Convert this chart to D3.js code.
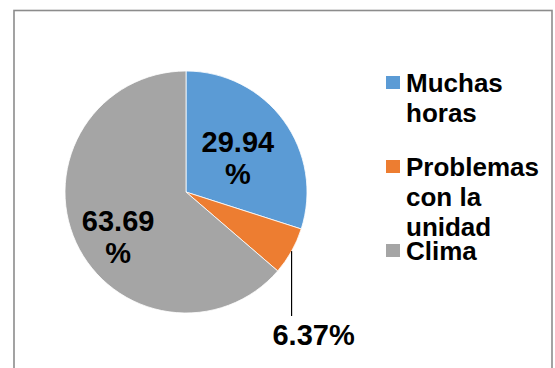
<!DOCTYPE html>
<html>
<head>
<meta charset="utf-8">
<script src="https://cdn.jsdelivr.net/npm/d3@7"></script>
<style>
  html, body { margin: 0; padding: 0; background: #fff; }
  svg { display: block; font-family: "Liberation Sans", Arial, sans-serif; font-weight: bold; }
</style>
</head>
<body>
<svg id="chart" width="555" height="368"></svg>
<script>
// Reasons and their shares (%)
const categories = ["Muchas horas", "Problemas con la unidad", "Clima"];
const shares = [29.94, 6.37, 63.69];
const valueLabels = ["29.94 %", "6.37%", "63.69 %"];
const legendLines = [["Muchas", "horas"], ["Problemas", "con la", "unidad"], ["Clima"]];
const colors = ["#5B9BD5", "#ED7D31", "#A5A5A5"];

const svg = d3.select("#chart");

// Chart frame
svg.append("rect")
  .attr("x", 14).attr("y", 10.5)
  .attr("width", 538).attr("height", 400)
  .attr("fill", "none")
  .attr("stroke", "#8c8c8c")
  .attr("stroke-width", 1.6);

const cx = 186, cy = 192, r = 121;
const g = svg.append("g").attr("transform", `translate(${cx},${cy})`);

const pie = d3.pie().sort(null).value(d => d)(shares);
const arc = d3.arc().innerRadius(0).outerRadius(r);

g.selectAll("path.slice")
  .data(pie)
  .join("path")
  .attr("class", "slice")
  .attr("d", arc)
  .attr("fill", (d, i) => colors[i])
  .attr("stroke", "#fff")
  .attr("stroke-width", 0.8);

// Inside labels for the two larger slices, wrapped over two lines
const insideRadius = [58, 78];
const insideNudge = [[5, 0], [3, 12]];
[0, 2].forEach((idx, k) => {
  const d = pie[idx];
  const c = d3.arc().innerRadius(insideRadius[k]).outerRadius(insideRadius[k]).centroid(d);
  const parts = valueLabels[idx].split(" ");
  const t = g.append("text")
    .attr("text-anchor", "middle")
    .attr("font-size", 29)
    .attr("fill", "#000");
  parts.forEach((p, j) => {
    t.append("tspan")
      .attr("x", c[0] + insideNudge[k][0])
      .attr("y", c[1] + insideNudge[k][1] - 6 + j * 32)
      .text(p);
  });
});

// Small slice: leader line straight down from the rim to an outside label
const small = pie[1];
const mid = (small.startAngle + small.endAngle) / 2;
const ex = Math.sin(mid) * r, ey = -Math.cos(mid) * r;
const leaderEnd = 124;
g.append("line")
  .attr("x1", ex).attr("y1", ey)
  .attr("x2", ex).attr("y2", leaderEnd)
  .attr("stroke", "#000")
  .attr("stroke-width", 1.2);
g.append("text")
  .attr("x", ex + 22)
  .attr("y", leaderEnd + 29)
  .attr("text-anchor", "middle")
  .attr("font-size", 29)
  .attr("fill", "#000")
  .text(valueLabels[1]);

// Legend
const legend = svg.append("g").attr("transform", "translate(386,0)");
const entry = legend.selectAll("g.entry")
  .data(categories)
  .join("g")
  .attr("class", "entry")
  .attr("transform", (d, i) => `translate(0,${92 + i * 84})`);

entry.append("rect")
  .attr("x", 0).attr("y", -16)
  .attr("width", 14).attr("height", 13)
  .attr("fill", (d, i) => colors[i]);

entry.append("text")
  .attr("font-size", 26)
  .attr("fill", "#000")
  .each(function (d, i) {
    const t = d3.select(this);
    legendLines[i].forEach((line, j) => {
      t.append("tspan")
        .attr("x", 20)
        .attr("y", j * 30)
        .text(line);
    });
  });
</script>
</body>
</html>
